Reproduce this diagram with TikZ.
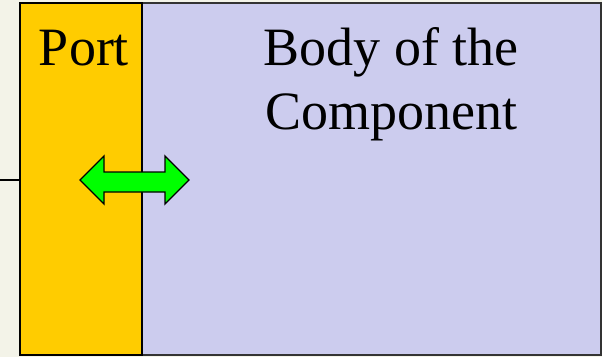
\documentclass[tikz,border=0pt]{standalone}
\usepackage{fontspec}
\setmainfont{Liberation Serif}
\definecolor{bgcream}{HTML}{F3F3E8}
\definecolor{portorange}{HTML}{FFCC00}
\definecolor{bodylav}{HTML}{CCCCEE}
\definecolor{arrowgreen}{HTML}{00FF00}
\tikzset{
  portbox/.style={draw=black, line width=1.6pt, fill=portorange, inner sep=0pt, outer sep=0pt},
  bodybox/.style={draw=black!80, line width=1.2pt, fill=bodylav, inner sep=0pt, outer sep=0pt},
  bigtext/.style={font=\fontsize{54}{64}\selectfont, align=center, inner sep=0pt},
  linkarrow/.style={draw=black, line width=1.3pt, fill=arrowgreen, line join=miter},
}
\begin{document}
\begin{tikzpicture}[x=1pt, y=-1pt]
\useasboundingbox (0,0) rectangle (602,357);
\fill[bgcream] (0,0) rectangle (602,357);
\node[bodybox, minimum width=459pt, minimum height=352pt, anchor=north west] (body) at (142,3) {};
\node[portbox, minimum width=122pt, minimum height=352pt, anchor=north west] (port) at (20,3) {};
\node[bigtext, anchor=base] (porttext) at (84,65) {Port};
\node[bigtext, anchor=base] (bodytext1) at (391,65) {Body of the};
\node[bigtext, anchor=base] (bodytext2) at (391,129) {Component};
\coordinate (wire) at (0,180);
\draw[line width=1.3pt] (wire) -- (wire -| port.west);
\draw[linkarrow] (80,180) -- (104,156) -- (104,172) -- (165,172) -- (165,156) -- (189,180)
  -- (165,204) -- (165,192) -- (104,192) -- (104,204) -- cycle;
\end{tikzpicture}
\end{document}
